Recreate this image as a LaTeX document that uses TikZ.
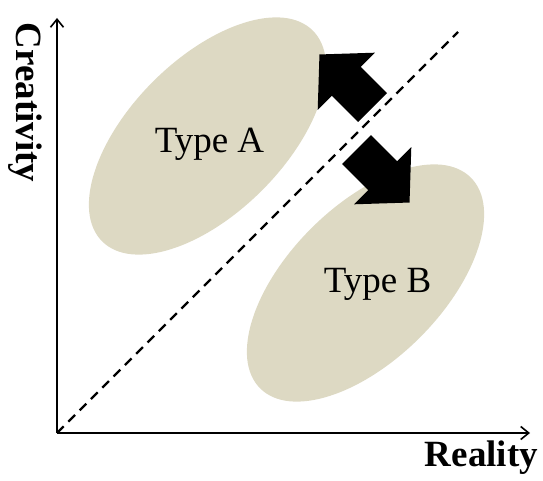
\documentclass[tikz,border=0pt]{standalone}
\usepackage{fontspec}
\setmainfont{Liberation Serif}
\usepackage{tikz}
\usetikzlibrary{arrows.meta, shapes.geometric}
\definecolor{blobcol}{HTML}{DDD9C3}

\begin{document}
\begin{tikzpicture}[
    x=1pt, y=1pt,
    blob/.style={ellipse, fill=blobcol, minimum width=298pt, minimum height=154pt,
                 inner sep=0pt},
    typelabel/.style={font=\fontsize{37}{44}\selectfont, anchor=base, inner sep=0pt},
    axislabel/.style={font=\fontsize{37}{44}\selectfont\bfseries, anchor=base, inner sep=0pt},
    axis/.style={line width=2pt, -{Straight Barb[length=8pt, width=13pt, line width=1.6pt]}},
    diagline/.style={line width=2.2pt, dash pattern=on 9.5pt off 6.5pt},
    blockarrow/.pic={
      \fill[black] (0,-20.5) -- (37,-20.5) -- (37,-40.5) -- (75,0)
                   -- (37,40.5) -- (37,20.5) -- (0,20.5) -- cycle;
    }
  ]
  \useasboundingbox (0,0) rectangle (543,480);

  % ---- Type regions ----
  \node[blob, rotate=45] (blobA) at (207.5,344) {};
  \node[blob, rotate=45] (blobB) at (365.5,197) {};
  \node[typelabel] (labelA) at (209.5,327) {Type A};
  \node[typelabel] (labelB) at (377.5,188) {Type B};

  % ---- Axes ----
  \coordinate (origin) at (57,47);
  \coordinate (ytip) at (57,462);
  \coordinate (xtip) at (530,47);
  \coordinate (diagend) at (458,448);
  \draw[axis] (origin) -- (ytip);
  \draw[axis] (origin) -- (xtip);
  \node[axislabel, rotate=-90] (ylabel) at (17,377.5) {Creativity};
  \node[axislabel] (xlabel) at (481.5,14) {Reality};

  % ---- Diagonal ----
  \draw[diagline] (origin) -- (diagend);

  % ---- Shift arrows between the types ----
  \pic[rotate=135] at (372.5,372.5) {blockarrow};
  \pic[rotate=-45] at (356.5,330.5) {blockarrow};

\end{tikzpicture}
\end{document}
